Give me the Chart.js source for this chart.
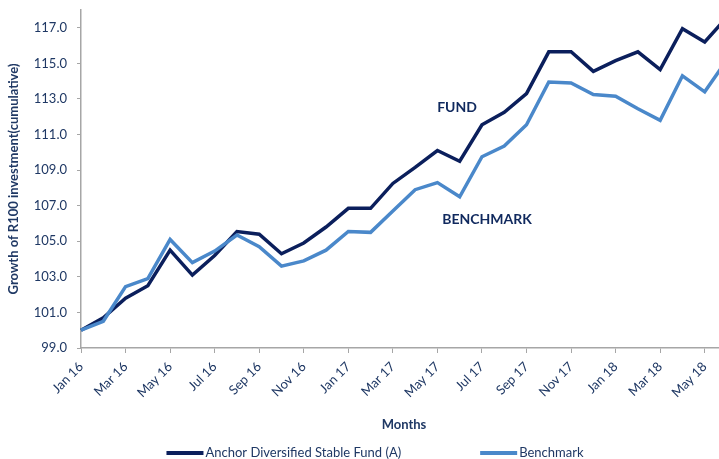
<!DOCTYPE html>
<html>
<head>
<meta charset="utf-8">
<script src="https://cdn.jsdelivr.net/npm/chart.js@4.4.0/dist/chart.umd.min.js"></script>
<style>
  html, body { margin: 0; padding: 0; background: #fff; overflow: hidden; }
  #wrap { width: 719px; height: 459px; overflow: hidden; }
</style>
</head>
<body>
<div id="wrap"><canvas id="myChart" width="750" height="459"></canvas></div>
<script>
var months = ['Jan 16','Feb 16','Mar 16','Apr 16','May 16','Jun 16','Jul 16','Aug 16','Sep 16','Oct 16','Nov 16','Dec 16',
              'Jan 17','Feb 17','Mar 17','Apr 17','May 17','Jun 17','Jul 17','Aug 17','Sep 17','Oct 17','Nov 17','Dec 17',
              'Jan 18','Feb 18','Mar 18','Apr 18','May 18','Jun 18'];
var fund = [100.0, 100.7, 101.8, 102.5, 104.5, 103.1, 104.2, 105.55, 105.4, 104.3, 104.9, 105.8,
            106.85, 106.85, 108.25, 109.15, 110.1, 109.5, 111.55, 112.25, 113.3, 115.65, 115.65, 114.55,
            115.15, 115.65, 114.65, 116.95, 116.2, 117.6];
var benchmark = [100.0, 100.5, 102.45, 102.9, 105.1, 103.8, 104.45, 105.35, 104.7, 103.6, 103.9, 104.5,
                 105.55, 105.5, 106.7, 107.9, 108.3, 107.5, 109.75, 110.35, 111.55, 113.95, 113.9, 113.25,
                 113.15, 112.45, 111.8, 114.3, 113.4, 115.2];
var yTicks = [99, 101, 103, 105, 107, 109, 111, 113, 115, 117];
var notes = [
  { text: 'FUND', x: 16.88, y: 112.5 },
  { text: 'BENCHMARK', x: 18.23, y: 106.25 }
];

var textCol = '#1F3864';
var axisCol = '#A6A6A6';
var fam = 'Lato, "Open Sans", sans-serif';

// draws the FUND / BENCHMARK labels and the legend strip
var extras = {
  id: 'extras',
  afterDraw: function (chart) {
    var c = chart.ctx, xs = chart.scales.x, ys = chart.scales.y;
    c.save();
    c.fillStyle = '#10295E';
    c.font = 'bold 14px ' + fam;
    c.textAlign = 'center';
    c.textBaseline = 'middle';
    notes.forEach(function (n) {
      c.fillText(n.text, xs.getPixelForValue(n.x), ys.getPixelForValue(n.y));
    });

    // legend
    c.font = '13px ' + fam;
    c.textAlign = 'left';
    var lineW = 37, gap = 2, between = 79;
    var ds = chart.data.datasets;
    var total = 0;
    ds.forEach(function (d, i) {
      total += lineW + gap + c.measureText(d.label).width;
      if (i < ds.length - 1) total += between;
    });
    var x = chart.width / 2 - total / 2, y = 453;
    ds.forEach(function (d) {
      c.fillStyle = d.borderColor;
      c.fillRect(x, y - 2, lineW, 4);
      x += lineW + gap;
      c.fillStyle = textCol;
      c.fillText(d.label, x, y);
      x += c.measureText(d.label).width + between;
    });
    c.restore();
  }
};

var ctx = document.getElementById('myChart').getContext('2d');
var chart = new Chart(ctx, {
  type: 'line',
  data: {
    labels: months,
    datasets: [{
      label: 'Anchor Diversified Stable Fund (A)',
      data: fund,
      borderColor: '#0B1F5C',
      backgroundColor: '#0B1F5C',
      borderWidth: 3.5,
      pointRadius: 0,
      order: 1
    },
    {
      label: 'Benchmark',
      data: benchmark,
      borderColor: '#4A88CA',
      backgroundColor: '#4A88CA',
      borderWidth: 3.5,
      pointRadius: 0,
      order: 0
    }]
  },
  options: {
    responsive: false,
    animation: false,
    layout: { padding: { left: 0, right: 23, top: 10, bottom: 0 } },
    scales: {
      x: {
        offset: false,
        afterFit: function (s) { s.height = 111; s.paddingTop = 0; },
        border: { color: axisCol, width: 1.5 },
        grid: {
          drawOnChartArea: false,
          tickLength: 5,
          color: function (c) { return c.index % 2 === 0 ? axisCol : 'rgba(0,0,0,0)'; }
        },
        ticks: {
          autoSkip: false,
          maxRotation: 45,
          minRotation: 45,
          padding: 6,
          color: textCol,
          font: { family: fam, size: 13 },
          callback: function (v, i) { return i % 2 === 0 ? months[i] : ''; }
        },
        title: {
          display: true,
          text: 'Months',
          color: textCol,
          font: { family: fam, size: 13, weight: 'bold' },
          padding: { top: 0, bottom: 26 }
        }
      },
      y: {
        min: 99,
        max: 118,
        afterFit: function (s) { s.width = 81; s.paddingTop = 0; s.paddingBottom = 0; },
        afterBuildTicks: function (s) { s.ticks = yTicks.map(function (v) { return { value: v }; }); },
        border: { color: axisCol, width: 1.5 },
        grid: { drawOnChartArea: false, tickLength: 4, color: axisCol },
        ticks: {
          padding: 10,
          color: textCol,
          font: { family: fam, size: 13 },
          callback: function (v) { return Number(v).toFixed(1); }
        },
        title: {
          display: true,
          text: 'Growth of R100 investment(cumulative)',
          color: textCol,
          font: { family: fam, size: 13, weight: 'bold' },
          padding: { top: 6, bottom: 0 }
        }
      }
    },
    plugins: {
      legend: { display: false },
      tooltip: { enabled: false }
    }
  },
  plugins: [extras]
});
</script>
</body>
</html>
